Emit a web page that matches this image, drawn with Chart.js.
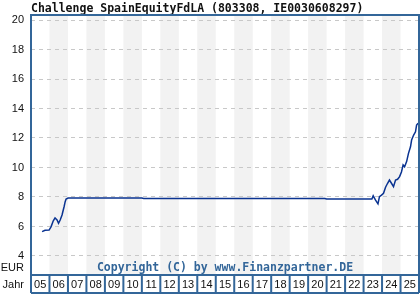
<!DOCTYPE html>
<html>
<head>
<meta charset="utf-8">
<script src="https://cdn.jsdelivr.net/npm/chart.js@4"></script>
<style>
  body { margin: 0; background: #fff; }
  canvas { display: block; }
</style>
</head>
<body>
<canvas id="chart" width="420" height="300"></canvas>
<script>
// Kursdaten (Jahr als Dezimalzahl, Kurs in EUR)
let priceYears = [2005.60, 2005.76, 2005.98, 2006.09, 2006.20, 2006.30, 2006.41, 2006.49, 2006.58, 2006.68,
  2006.79, 2006.85, 2006.90, 2007.01, 2009.0, 2011.0, 2011.1, 2014.0, 2017.0, 2020.9, 2021.0,
  2023.45, 2023.52, 2023.64, 2023.78, 2023.86, 2023.97, 2024.08, 2024.19, 2024.30, 2024.40,
  2024.51, 2024.62, 2024.73, 2024.84, 2024.95, 2025.05, 2025.14, 2025.22, 2025.33, 2025.43,
  2025.54, 2025.60, 2025.71, 2025.81, 2025.87, 2025.95];
let priceValues = [5.65, 5.74, 5.76, 5.99, 6.37, 6.58, 6.44, 6.22, 6.44, 6.78,
  7.34, 7.68, 7.86, 7.93, 7.93, 7.93, 7.90, 7.90, 7.90, 7.90, 7.86,
  7.86, 8.08, 7.80, 7.53, 8.02, 8.13, 8.25, 8.66, 8.93, 9.15,
  8.93, 8.70, 9.15, 9.20, 9.38, 9.70, 10.17, 10.05, 10.40, 10.96,
  11.40, 11.86, 12.20, 12.42, 12.88, 13.00];

// Achsenbeschriftungen
let yearLabels = ["05", "06", "07", "08", "09", "10", "11", "12", "13", "14", "15",
  "16", "17", "18", "19", "20", "21", "22", "23", "24", "25"];
let yTicks = [4, 6, 8, 10, 12, 14, 16, 18, 20];

let titleText = "Challenge SpainEquityFdLA (803308, IE0030608297)";
let copyrightText = "Copyright (C) by www.Finanzpartner.DE";

let blue = "#336699";

// Hintergrundstreifen, Rahmen, Jahreskästchen und Texte
let decorPlugin = {
  id: "decor",
  beforeDraw(chart) {
    let ctx = chart.ctx;
    let area = chart.chartArea;
    let x = chart.scales.x;
    ctx.save();
    ctx.fillStyle = "#f2f2f2";
    yearLabels.forEach((label, i) => {
      if (i % 2 === 1) {
        let x0 = x.getPixelForValue(2005 + i);
        let x1 = x.getPixelForValue(2006 + i);
        ctx.fillRect(x0, area.top, x1 - x0, area.bottom - area.top);
      }
    });
    ctx.restore();
  },
  afterDraw(chart) {
    let ctx = chart.ctx;
    let area = chart.chartArea;
    let x = chart.scales.x;
    ctx.save();

    // Copyright
    ctx.font = "bold 11.5px 'DejaVu Sans Mono'";
    ctx.fillStyle = blue;
    ctx.textAlign = "center";
    ctx.textBaseline = "middle";
    ctx.fillText(copyrightText, (area.left + area.right) / 2, 268);

    // Titel
    ctx.fillStyle = "#111";
    ctx.textAlign = "left";
    ctx.fillText(titleText, 31, 9);

    // Rahmen
    ctx.strokeStyle = blue;
    ctx.lineWidth = 2;
    ctx.strokeRect(area.left, area.top, area.right - area.left, area.bottom - area.top);

    // Jahreskästchen
    let boxTop = area.bottom;
    let boxBottom = 293;
    ctx.beginPath();
    ctx.moveTo(area.left, boxBottom);
    ctx.lineTo(area.right, boxBottom);
    for (let i = 0; i <= yearLabels.length; i++) {
      let px = x.getPixelForValue(2005 + i);
      ctx.moveTo(px, boxTop);
      ctx.lineTo(px, boxBottom);
    }
    ctx.stroke();

    ctx.font = "11px 'Liberation Sans'";
    ctx.fillStyle = "#111";
    ctx.textAlign = "center";
    yearLabels.forEach((label, i) => {
      ctx.fillText(label, x.getPixelForValue(2005.5 + i), 284.5);
    });

    ctx.textAlign = "right";
    ctx.fillText("EUR", 24, 268);
    ctx.fillText("Jahr", 24, 284.5);
    ctx.restore();
  },
};

new Chart(document.getElementById("chart"), {
  type: "line",
  data: {
    datasets: [
      {
        data: priceYears.map((year, i) => ({ x: year, y: priceValues[i] })),
        borderColor: "#0a3391",
        borderWidth: 1.5,
        pointRadius: 0,
        tension: 0,
        fill: false,
      },
    ],
  },
  options: {
    responsive: false,
    animation: false,
    layout: { padding: { top: 15, right: 1, bottom: 25, left: 0 } },
    plugins: {
      legend: { display: false },
      tooltip: { enabled: false },
    },
    scales: {
      x: {
        type: "linear",
        display: false,
        min: 2005,
        max: 2026,
      },
      y: {
        min: 2.71,
        max: 20.34,
        afterFit: (scale) => {
          scale.width = 31;
        },
        afterBuildTicks: (scale) => {
          scale.ticks = yTicks.map((v) => ({ value: v }));
        },
        grid: {
          color: "#c8c8c8",
          drawTicks: false,
        },
        border: { display: false, dash: [4, 4] },
        ticks: {
          padding: 7,
          color: "#111",
          font: { family: "Liberation Sans", size: 11 },
        },
      },
    },
  },
  plugins: [decorPlugin],
});
</script>
</body>
</html>
